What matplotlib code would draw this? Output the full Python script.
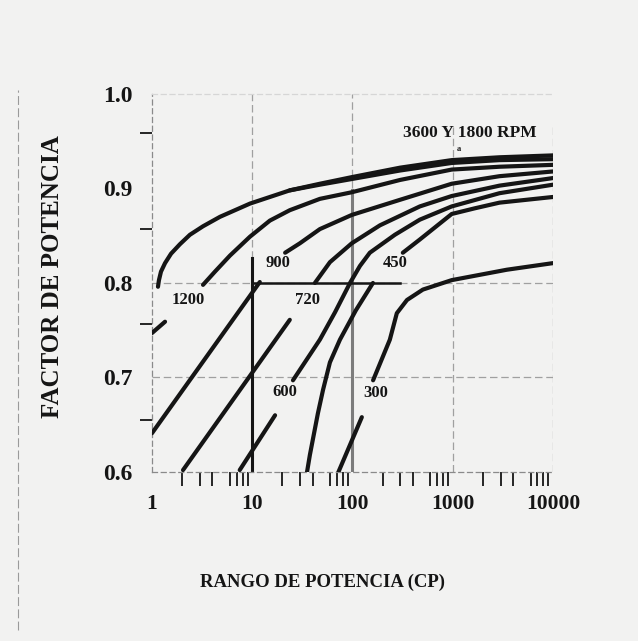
import numpy as np
import matplotlib
matplotlib.use("Agg")
import matplotlib.pyplot as plt
from matplotlib.ticker import FixedLocator, NullFormatter

# Curves: (CP, power factor). Gaps are where the labels sit.
c3600 = [(1.148, 0.796), (1.174, 0.803), (1.23, 0.812), (1.35, 0.821), (1.55, 0.831),
         (1.90, 0.841), (2.39, 0.851), (3.23, 0.860), (4.77, 0.870), (9.5, 0.884),
         (23.7, 0.898), (47.3, 0.905), (98.5, 0.912), (298, 0.922), (977, 0.930),
         (2930, 0.933), (10000, 0.935)]
c1800 = [(23.7, 0.898), (47.3, 0.904), (98.5, 0.910), (298, 0.919), (977, 0.927),
         (2930, 0.930), (10000, 0.931)]
c1200_lo = [(1.0, 0.747), (1.35, 0.759)]
c1200 = [(3.23, 0.798), (4.25, 0.812), (6.0, 0.829), (9.5, 0.849), (15.0, 0.866),
         (23.7, 0.877), (47.3, 0.889), (98.5, 0.896), (298, 0.909), (977, 0.920),
         (2930, 0.923), (10000, 0.925)]
c900_lo = [(1.0, 0.641), (11.9, 0.801)]
c900 = [(21.3, 0.832), (29.9, 0.842), (47.3, 0.857), (98.5, 0.872), (298, 0.888),
        (977, 0.905), (2930, 0.913), (10000, 0.918)]
c720_lo = [(2.04, 0.602), (23.7, 0.761)]
c720 = [(42.2, 0.800), (59.6, 0.822), (98.5, 0.842), (188, 0.861), (470, 0.881),
        (977, 0.892), (2930, 0.903), (10000, 0.911)]
c600_lo = [(7.5, 0.602), (16.9, 0.660)]
c600 = [(25.5, 0.697), (47.3, 0.740), (67, 0.769), (94.5, 0.800), (118.7, 0.818),
        (149, 0.832), (265, 0.851), (470, 0.867), (977, 0.881), (2930, 0.895), (10000, 0.904)]
c450_lo = [(35.1, 0.599), (37.6, 0.618), (40.2, 0.634), (45.2, 0.662), (50.9, 0.687),
           (59.6, 0.716), (75, 0.740), (108, 0.771), (160, 0.800)]
c450 = [(318, 0.832), (470, 0.846), (977, 0.873), (1660, 0.879), (2930, 0.885), (10000, 0.891)]
c300_lo = [(71.8, 0.599), (124, 0.658)]
c300 = [(160.6, 0.697), (236, 0.740), (277, 0.768), (350, 0.782), (504, 0.793),
        (977, 0.803), (3460, 0.814), (10000, 0.821)]

curves = [c3600, c1800, c1200_lo, c1200, c900_lo, c900, c720_lo, c720,
          c600_lo, c600, c450_lo, c450, c300_lo, c300]

# curve labels and where they sit
curve_labels = ["1200", "900", "720", "600", "450", "300"]
label_pos = [(2.29, 0.782), (18.1, 0.821), (36, 0.782), (21.2, 0.685), (265, 0.821), (171, 0.684)]

yticks = [0.6, 0.7, 0.8, 0.9, 1.0]
xticks = [1, 10, 100, 1000, 10000]

paper = "#f2f2f1"
ink = "#151515"
font = dict(family="Liberation Serif", weight="bold", color=ink)

fig = plt.figure(figsize=(6.38, 6.41), dpi=100, facecolor=paper)
ax = fig.add_axes([0.2382, 0.2637, 0.6285, 0.5897], facecolor=paper)
ax.set_xscale("log")
ax.set_xlim(1, 10000)
ax.set_ylim(0.6, 1.0)

# light dashed grid of the scan
grid = dict(color="#a0a0a0", lw=0.9, ls=(0, (6, 3)), zorder=1)
ax.plot([1, 10000], [0.7, 0.7], **grid)
ax.plot([1, 10000], [0.8, 0.8], **grid)
ax.plot([1000, 1000], [0.6, 0.965], **grid)
ax.plot([10000, 10000], [0.6, 0.965], **grid)
ax.plot([10, 10], [0.6, 1.0], **grid)
ax.plot([100, 100], [0.9, 1.0], **grid)
ax.plot([100, 100], [0.6, 0.898], color="#7c7c7c", lw=2.2, zorder=1)

# heavy construction lines
ax.plot([10, 10], [0.6, 0.826], color=ink, lw=2.2, zorder=2)
ax.plot([10, 300], [0.8, 0.8], color=ink, lw=1.8, zorder=2)

for c in curves:
    xs, ys = zip(*c)
    ax.plot(xs, ys, color=ink, lw=3.0, solid_capstyle="round", solid_joinstyle="round",
            zorder=3)

for t, (x, y) in zip(curve_labels, label_pos):
    ax.text(x, y, t, ha="center", va="center", fontsize=12, **font)

ax.text(1480, 0.959, "3600 Y 1800 RPM", ha="center", va="center", fontsize=12.5, **font)
ax.text(1150, 0.942, "a", ha="center", va="center", fontsize=6, **font)

for side, s in ax.spines.items():
    s.set_color("#8a8a8a")
    s.set_linewidth(0.9)
    s.set_linestyle((0, (4, 3)))
ax.spines["right"].set_visible(False)
ax.spines["top"].set_color("#d6d6d6")

ax.yaxis.set_major_locator(FixedLocator(yticks))
ax.set_yticklabels([f"{v:.1f}" for v in yticks])
ax.yaxis.set_minor_locator(FixedLocator([0.655, 0.757, 0.857, 0.959]))
ax.yaxis.set_minor_formatter(NullFormatter())
ax.tick_params(axis="y", which="major", length=0, pad=14, labelsize=17)
ax.tick_params(axis="y", which="minor", length=9, width=1.3, color=ink, direction="out")

ax.xaxis.set_major_locator(FixedLocator(xticks))
ax.set_xticklabels([str(v) for v in xticks])
minors = [m * 10 ** d for d in range(4) for m in [2, 3, 4, 6, 7, 8, 9]]
ax.xaxis.set_minor_locator(FixedLocator(minors))
ax.xaxis.set_minor_formatter(NullFormatter())
ax.tick_params(axis="x", which="major", length=0, pad=16, labelsize=15.5)
ax.tick_params(axis="x", which="minor", length=10, width=1.3, color=ink, direction="out")
for lab in ax.get_xticklabels() + ax.get_yticklabels():
    lab.set_fontfamily("Liberation Serif")
    lab.set_fontweight("bold")
    lab.set_color(ink)

fig.text(53 / 638, 1 - 277 / 641, "FACTOR DE POTENCIA", rotation=90, ha="center", va="center",
         fontsize=18, **font)
fig.text(323 / 638, 1 - 582 / 641, "RANGO DE POTENCIA (CP)", ha="center", va="center",
         fontsize=13.5, **font)

# page edge visible on the left of the scan
fig.add_artist(plt.Line2D([18 / 638, 18 / 638], [1 - 630 / 641, 1 - 90 / 641],
                          transform=fig.transFigure, color="#9a9a9a", lw=0.8, ls=(0, (8, 3))))

fig.savefig("out.png", dpi=100, facecolor=paper)
